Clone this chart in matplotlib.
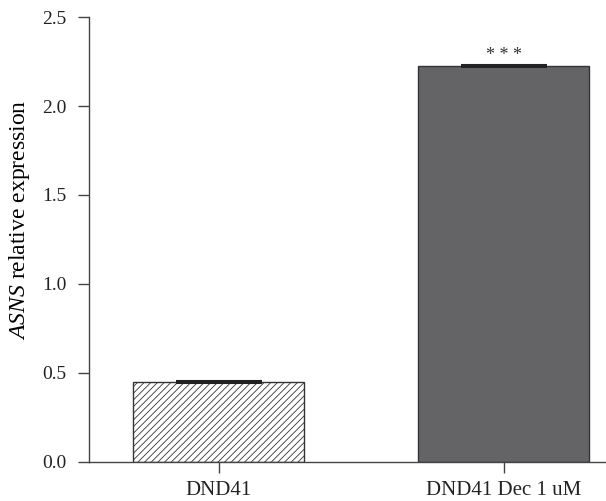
import numpy as np
import matplotlib.pyplot as plt

plt.rcParams["font.family"] = ["Liberation Serif", "DejaVu Serif"]
plt.rcParams["mathtext.fontset"] = "custom"
plt.rcParams["mathtext.rm"] = "Liberation Serif"
plt.rcParams["mathtext.it"] = "Liberation Serif:italic"
plt.rcParams["hatch.color"] = "#555555"
plt.rcParams["hatch.linewidth"] = 0.6

groups = ["DND41", "DND41 Dec 1 uM"]
values = [0.449, 2.226]
errors = [0.004, 0.006]
signif = ["", "* * *"]

fig = plt.figure(figsize=(6.06, 5.01), dpi=100)
ax = fig.add_axes([0.147, 0.078, 0.853, 0.888])

x = np.arange(len(groups))
ax.bar(x[0], values[0], width=0.6, color="white", edgecolor="#333333",
       linewidth=1.0, hatch="/////")
ax.bar(x[1], values[1], width=0.6, color="#646466", edgecolor="#333333",
       linewidth=1.0)
ax.errorbar(x, values, yerr=errors, fmt="none", ecolor="#222222",
            elinewidth=1.5, capsize=31, capthick=1.5)
for xi, v, s in zip(x, values, signif):
    if s:
        ax.text(xi, v + 0.012, s, ha="center", va="bottom", fontsize=13,
                color="#333333")

ax.set_xlim(-0.456, 1.36)
ax.set_ylim(0, 2.5)
ax.set_yticks([0.0, 0.5, 1.0, 1.5, 2.0, 2.5])
ax.set_yticklabels(["0.0", "0.5", "1.0", "1.5", "2.0", "2.5"])
ax.set_xticks(x)
ax.set_xticklabels(groups)
ax.set_ylabel(r"$\it{ASNS}$ relative expression", fontsize=17)
ax.yaxis.set_label_coords(-0.11, 0.545)

for side in ["top", "right"]:
    ax.spines[side].set_visible(False)
for side in ["left", "bottom"]:
    ax.spines[side].set_color("#444444")
    ax.spines[side].set_linewidth(1.0)
ax.tick_params(axis="both", colors="#444444", length=8, width=1.0,
               labelsize=14, labelcolor="#222222")
ax.tick_params(axis="x", pad=6, labelsize=15)
ax.tick_params(axis="y", pad=8)

fig.savefig("out.png", dpi=100)
